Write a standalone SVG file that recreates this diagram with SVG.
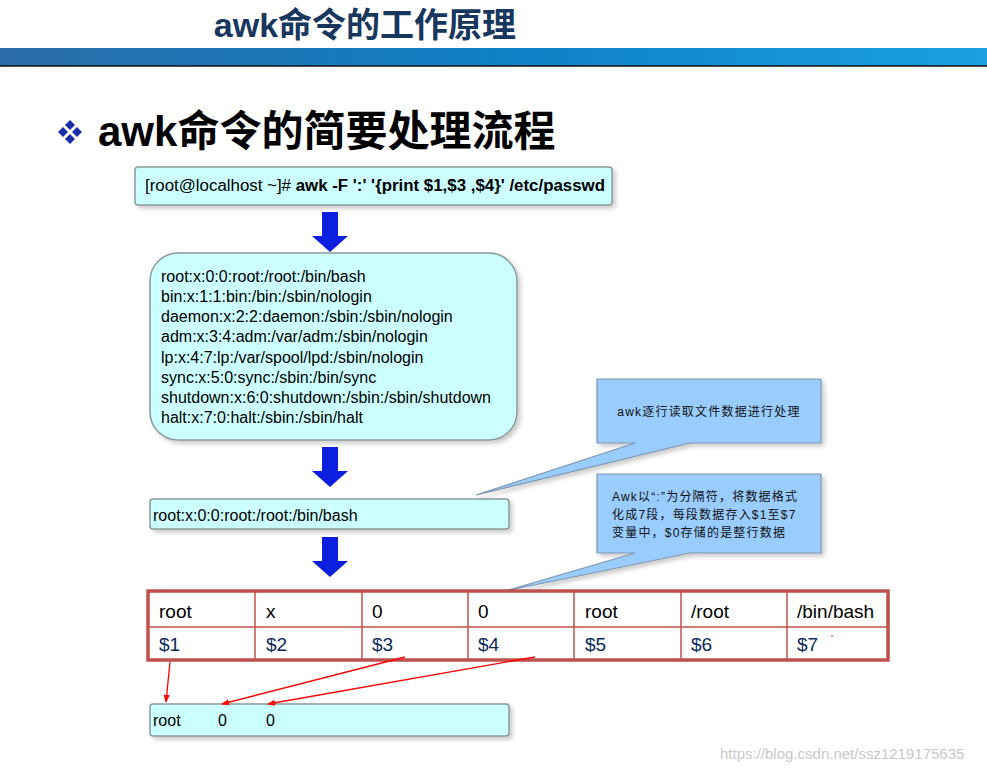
<svg xmlns="http://www.w3.org/2000/svg" width="987" height="773" viewBox="0 0 987 773">
<defs>
<linearGradient id="band" x1="0" y1="0" x2="1" y2="0">
<stop offset="0" stop-color="#2a6ca8"/><stop offset="0.5" stop-color="#0f7fc4"/><stop offset="1" stop-color="#1aa0e0"/>
</linearGradient>
<marker id="ra" viewBox="0 0 10 10" refX="9" refY="5" markerWidth="6" markerHeight="6" orient="auto"><path d="M0,1 L10,5 L0,9 z" fill="#ff0000"/></marker>
<filter id="sh" x="-5%" y="-10%" width="115%" height="130%"><feDropShadow dx="3" dy="3" stdDeviation="2" flood-color="#000" flood-opacity="0.2"/></filter>
</defs>
<style>
text{font-family:"Liberation Sans","Noto Sans CJK SC",sans-serif}
.box{fill:#ccffff;stroke:#8a9a9a;stroke-width:1.5}
.call{fill:#99ccff;stroke:#7f96ad;stroke-width:1.2}
.t15{font-size:16px;fill:#000}
.cell{font-size:19px;fill:#000}
.dol{font-size:19px;fill:#0b2a5a}
.c12{font-size:12px;fill:#111;letter-spacing:1.2px}
.barr{fill:#0a1fe0}
.red{stroke:#ff0000;stroke-width:1.3;fill:none}
</style>
<rect width="987" height="773" fill="#fff"/>
<text x="365" y="37" font-size="34" font-weight="bold" fill="#17375e" text-anchor="middle">awk命令的工作原理</text>
<rect x="0" y="48" width="987" height="18" fill="url(#band)"/>
<line x1="0" y1="66" x2="987" y2="66" stroke="#111" stroke-width="1.5"/>
<g id="bullet" fill="#1a2ea8">
<path d="M70,120 l5,5 l-5,5 l-5,-5z"/><path d="M63,127 l5,5 l-5,5 l-5,-5z"/><path d="M77,127 l5,5 l-5,5 l-5,-5z"/><path d="M70,134 l5,5 l-5,5 l-5,-5z"/>
</g>
<text x="98" y="146" font-size="42" font-weight="bold" fill="#000">awk命令的简要处理流程</text>

<g id="cmd">
<rect class="box" x="135" y="167" width="477" height="38" rx="3" filter="url(#sh)"/>
<text x="145" y="191" font-size="16" textLength="460" lengthAdjust="spacingAndGlyphs">[root@localhost ~]# <tspan font-weight="bold">awk -F ':' '{print $1,$3 ,$4}' /etc/passwd</tspan></text>
</g>

<g id="file">
<rect class="box" x="150" y="253" width="367" height="187" rx="28" filter="url(#sh)"/>
<text class="t15" x="161" y="282">root:x:0:0:root:/root:/bin/bash</text>
<text class="t15" x="161" y="302">bin:x:1:1:bin:/bin:/sbin/nologin</text>
<text class="t15" x="161" y="322">daemon:x:2:2:daemon:/sbin:/sbin/nologin</text>
<text class="t15" x="161" y="342">adm:x:3:4:adm:/var/adm:/sbin/nologin</text>
<text class="t15" x="161" y="363">lp:x:4:7:lp:/var/spool/lpd:/sbin/nologin</text>
<text class="t15" x="161" y="383">sync:x:5:0:sync:/sbin:/bin/sync</text>
<text class="t15" x="161" y="403">shutdown:x:6:0:shutdown:/sbin:/sbin/shutdown</text>
<text class="t15" x="161" y="423">halt:x:7:0:halt:/sbin:/sbin/halt</text>
</g>

<g id="line1">
<rect class="box" x="150" y="499" width="359" height="30" rx="3" filter="url(#sh)"/>
<text class="t15" x="153" y="521">root:x:0:0:root:/root:/bin/bash</text>
</g>

<g id="call1">
<path class="call" d="M597,379 H821 V443 H690 L476,495 L635,443 H597 Z" filter="url(#sh)"/>
<text class="c12" x="709" y="416" text-anchor="middle">awk逐行读取文件数据进行处理</text>
</g>
<g id="call2">
<path class="call" d="M597,474 H821 V553 H690 L505,591 L635,553 H597 Z" filter="url(#sh)"/>
<text class="c12" x="612" y="501">Awk以“:”为分隔符，将数据格式</text>
<text class="c12" x="612" y="519">化成7段，每段数据存入$1至$7</text>
<text class="c12" x="612" y="537">变量中，$0存储的是整行数据</text>
</g>

<g id="table">
<rect x="148" y="591" width="740" height="69" fill="#fff" stroke="#c0504d" stroke-width="3.5"/>
<g stroke="#c0504d" stroke-width="1.5">
<line x1="148" y1="627" x2="888" y2="627"/>
<line x1="255" y1="591" x2="255" y2="660"/><line x1="362" y1="591" x2="362" y2="660"/><line x1="468" y1="591" x2="468" y2="660"/><line x1="574" y1="591" x2="574" y2="660"/><line x1="681" y1="591" x2="681" y2="660"/><line x1="787" y1="591" x2="787" y2="660"/>
</g>
<text class="cell" x="159" y="618">root</text><text class="cell" x="266" y="618">x</text><text class="cell" x="372" y="618">0</text><text class="cell" x="478" y="618">0</text><text class="cell" x="585" y="618">root</text><text class="cell" x="691" y="618">/root</text><text class="cell" x="797" y="618">/bin/bash</text>
<text class="dol" x="159" y="651">$1</text><text class="dol" x="266" y="651">$2</text><text class="dol" x="372" y="651">$3</text><text class="dol" x="478" y="651">$4</text><text class="dol" x="585" y="651">$5</text><text class="dol" x="691" y="651">$6</text><text class="dol" x="797" y="651">$7</text>
<circle cx="832" cy="636" r="0.8" fill="#f00"/>
</g>

<g id="result">
<rect class="box" x="150" y="704" width="359" height="32" rx="3" filter="url(#sh)"/>
<text class="t15" x="153" y="726">root</text><text class="t15" x="218" y="726">0</text><text class="t15" x="266" y="726">0</text>
</g>

<g id="connectors">
<path class="barr" d="M322,212 h16 v24 h10 l-18,16 l-18,-16 h10z"/>
<path class="barr" d="M322,447 h16 v24 h10 l-18,16 l-18,-16 h10z"/>
<path class="barr" d="M322,537 h16 v24 h10 l-18,16 l-18,-16 h10z"/>
<line class="red" x1="170" y1="662" x2="166" y2="702" marker-end="url(#ra)"/>
<line class="red" x1="405" y1="657" x2="222" y2="704" marker-end="url(#ra)"/>
<line class="red" x1="535" y1="657" x2="268" y2="704" marker-end="url(#ra)"/>
</g>
<text x="720" y="759" font-size="15" fill="#c8c8c8">https://blog.csdn.net/ssz1219175635</text>
</svg>
